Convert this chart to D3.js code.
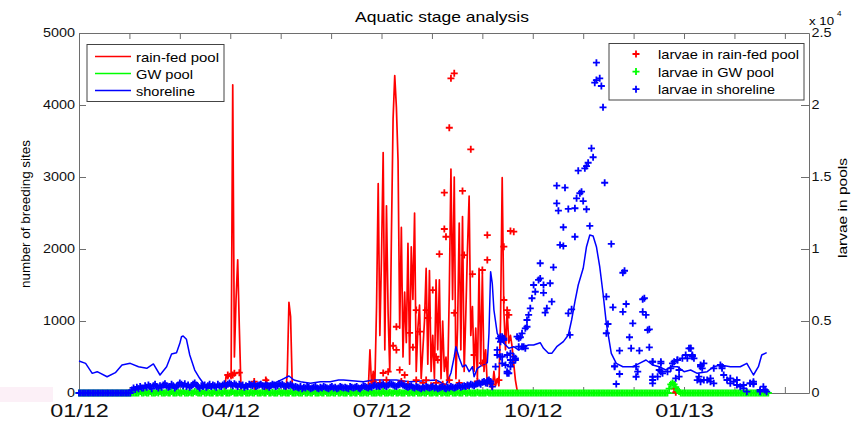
<!DOCTYPE html>
<html><head><meta charset="utf-8">
<script src="https://cdn.jsdelivr.net/npm/d3@7"></script>
<style>
body{margin:0;background:#fff;}
svg{display:block;font-family:"Liberation Sans",Arial,sans-serif;}
</style></head><body>
<svg id="c" width="854" height="423"></svg>
<script>
// ---------- DATA (day = days since 2012-01-01) ----------
const xTickDays = [0,30.5,61,91.5,122,152.5,183,213.5,244,274.5,305,335.5,366,396.5,427];
const xTickLabels = ["01/12","","","04/12","","","07/12","","","10/12","","","01/13","",""];
const yLeftTicks = [0,1000,2000,3000,4000,5000];
const yRightTicks = [0,5000,10000,15000,20000,25000];
const yRightTickLabels = ["0","0.5","1","1.5","2","2.5"];

// rain-fed pool (left axis) [day, sites]
const rainFedPool = [[0,0],[88,0],[89,250],[90,200],[91,270],[92,200],[93,4280],[94,500],[95,1300],[96,1850],[97,900],[98,50],[99,0],
[106,0],[106.5,150],[107,0],[113,0],[113.5,200],[114,0],[125,0],[126,280],[127,1260],[128,1060],[129,100],[130,0],[174,0],
[175,50],[176,600],[177,100],[178,300],[179,150],[180,1200],[181,2910],[182,800],[183,1900],[184,3340],[185,600],[186,2600],[187,1100],[188,300],[189,2200],
[190,3810],[191,4410],[192,3970],[193,3230],[194,900],[195,2300],[196,500],[197,1400],[198,700],[199,2080],[200,400],[201,2030],[202,1300],[203,2500],[204,300],
[205,900],[206,1220],[207,200],[208,600],[209,1000],[210,1730],[211,400],[212,1700],[213,300],[214,800],[215,200],[216,1570],[217,600],[218,1570],[219,200],
[220,1000],[221,300],[222,500],[223,150],[224,1400],[225,3110],[226,1300],[227,3000],[228,200],[229,900],[230,2360],[231,600],[232,2450],[233,300],[234,1100],
[235,2000],[236,2736],[237,800],[238,1200],[239,300],[240,900],[241,200],[242,1730],[243,400],[244,1666],[245,300],[246,600],[247,100],[248,200],[249,100],
[250,50],[251,300],[252,100],[253,200],[254,100],[255,1000],[256,2990],[257,1150],[258,600],[259,1150],[260,694],[261,800],[262,643],[263,400],[264,180],[265,42],[266,0]];

// GW pool (left axis)
const gwPool = [[0,0],[120,0],[240,0],[360,0],[417,0]];

// shoreline (left axis)
const shoreline = [[0,444],[4,412],[8,273],[11,296],[17,226],[22,282],[26,389],[31,412],[36,365],[41,343],[45,403],[49,250],[53,365],[56,542],[59,560],[61,690],[62,782],[63,792],[65,746],[67,528],[70,319],[73,204],[76,111],[79,65],[83,88],[89,111],[95,111],[101,111],[110,135],[118,135],[123,190],[127,236],[130,180],[134,157],[140,135],[146,157],[152,157],[157,180],[160,180],[172,157],[178,180],[192,180],[200,157],[216,180],[222,111],[225,278],[227,504],[228,643],[230,486],[232,365],[234,389],[236,296],[238,365],[239,226],[241,343],[244,389],[247,421],[248,829],[249,1685],[250,1524],[251,1153],[253,829],[255,736],[257,690],[260,621],[263,643],[266,597],[269,643],[272,667],[275,667],[279,699],[281,621],[284,551],[286,551],[289,643],[293,713],[296,806],[298,1014],[300,1268],[302,1500],[305,1732],[307,2032],[309,2195],[311,2181],[313,2032],[315,1754],[317,1385],[319,968],[322,551],[325,412],[329,365],[335,365],[339,412],[343,458],[347,389],[351,365],[355,319],[358,365],[362,365],[366,296],[370,319],[374,273],[380,296],[384,365],[388,389],[394,365],[400,365],[404,412],[408,250],[411,365],[413,528],[416,560]];

// larvae in rain-fed pool (right axis) [day, larvae]
const rainLarvae = [[90,1250],[93,1250],[94,1370],[97,1410],[106,790],[113,900],
[178,800],[182,700],[184,1390],[186,900],[187,1480],[190,3280],[192,4600],[192,2990],[194,1600],[195,800],[197,1250],[199,600],[200,4170],[202,3170],
[204,5760],[204,900],[206,4260],[208,700],[210,5760],[210,900],[211,5210],[213,500],[214,7150],[216,2520],[216,700],[217,2290],[218,9650],[220,600],
[221,13910],[221,11390],[222,10850],[224,18420],[224,900],[225,21850],[227,22200],[227,5560],[230,700],[232,14030],[233,9580],[235,500],[237,16920],
[238,8260],[239,2640],[241,800],[244,8540],[244,2080],[247,10970],[247,9240],[250,600],[254,900],[257,10160],[257,6460],[259,5760],[260,5420],
[261,11250],[263,11200],[360,300],[361,50]];

// larvae in GW pool (right axis), daily from day 0
const gwLarvaeDaily = [
0,0,0,0,0,0,0,0,0,0, 0,0,0,0,0,0,0,0,0,0, 0,0,0,0,0,0,0,0,0,0, 0,0,0,0,0,
0,0,100,0,0,50,0,0,100,0,0,0,50,0,100,0,0,0,50,0,0,100,0,0,
0,50,0,0,100,0,0,0,50,0,0,100,50,0,0,0,100,0,0,50,0,0,0,100,
0,0,50,0,0,100,0,0,0,50,100,0,0,0,50,0,0,100,0,0,0,50,0,0,
100,0,0,0,50,0,0,100,0,0,50,0,0,0,100,0,0,50,0,0,0,100,0,0,
0,50,0,0,0,100,0,0,50,0,0,100,0,0,0,50,0,0,100,0,0,0,50,0,
0,100,0,0,50,0,0,0,100,0,0,50,0,0,100,0,0,0,50,0,0,100,0,0,
0,0,50,0,0,100,0,0,0,50,0,0,100,0,0,50,0,0,0,100,0,0,50,0,
0,100,0,0,0,50,0,0,100,0,0,0,50,0,0,100,0,0,50,0,0,0,100,0,
0,0,50,0,0,0,100,0,0,50,0,0,0,0,50,0,0,0,0,0,50,0,0,0,
0,0,0,0,0,0,0,0,0,0, 0,0,0,0,0,0,0,0,0,0, 0,0,0,0,0,0,0,0,0,0, 0,0,0,0,0,0,0,0,0,0, 0,0,0,0,0,0,0,0,0,0,
0,0,0,0,0,0,0,0,0,0, 0,0,0,0,0,0,0,0,0,0, 0,0,0,0,0,0,0,0,0,0, 0,0,0,0,0,0,0,0,0,0, 0,0,0,0,0,0,0,0,0,0, 0,0,0,0,0,0,
300,600,700,600,400,200,100,
0,0,0,0,0,0,0,0,0,0, 0,0,0,0,0,0,0,0,0,0, 0,0,0,0,0,0,0,0,0,0, 0,0,0,0,0,0,0,0,0,0, 0,0,0,0,0,0,0,0,0,0, 0,0,0,0];

// larvae in shoreline (right axis), daily from day 0 to 249
const shoreLarvaeDaily = [
0,0,0,0,0,0,0,0,0,0, 0,0,0,0,0,0,0,0,0,0, 0,0,0,0,0,0,0,0,0,0, 0,0,
200,350,250,400,300,450,350,
350,500,400,550,450,300,500,600,450,350,500,400,550,650,500,400,450,600,500,350,450,
550,700,600,500,650,450,550,400,500,600,700,550,450,350,500,450,550,400,500,600,450,550,500,400,600,500,450,550,650,500,600,
700,600,500,650,550,450,600,500,550,400,500,450,600,550,500,650,450,500,550,600,500,450,550,500,400,500,600,550,450,500,650,550,600,500,450,550,500,600,500,400,
450,400,350,450,300,400,350,450,400,300,350,400,450,350,300,400,350,450,400,350,300,400,450,350,400,300,350,450,400,350,400,350,300,450,400,350,400,450,350,300,400,500,450,400,350,450,400,500,550,450,
500,450,550,600,500,450,550,650,600,550,500,450,550,600,650,550,500,450,400,450,500,400,350,450,400,350,300,400,350,450,400,350,400,450,350,400,300,350,400,450,
350,300,400,350,450,400,350,400,450,500,400,450,500,450,550,500,600,550,500,600,650,700,600,750,800,700,850,900,800];

// larvae in shoreline, scattered points after September [day, larvae]
const shoreLarvaeLate = [[313,22940],[315,21850],[313,21730],[312,21550],[316,21320],[317,19840],[310,16990],[311,16370],[308,15990],[307,15760],[306,15600],[302,15440],[318,14600],[289,14400],[294,14260],[304,13980],[303,13870],[301,13520],[305,13330],[289,13170],[290,12660],[296,12780],[300,12830],[307,12760],[293,11510],[309,11600],[300,10850],[293,10210],[291,10280],[322,10350],[279,9010],[287,8730],[330,8490],[329,8350],[275,7500],[279,7960],[278,7850],[281,7500],[285,7620],[274,6580],[276,7030],[281,6960],[286,6340],[283,5880],[282,5580],[273,5880],[272,5420],[271,5070],[270,4490],[296,5530],[298,5810],[319,6690],[323,5950],[331,6180],[329,5640],[341,6510],[342,6580],[341,5640],[343,5420],[335,4840],[320,4790],[345,4420],[333,3870],[297,4030],[266,3800],[255,3910],[257,3800],[319,4150],[327,2940],[334,3100],[339,2940],[345,3170],[370,3100],[324,1830],[327,1320],[337,1130],[337,1830],[325,625],[347,2170],[352,2060],[352,1480],[347,1130],[347,670],[359,2060],[362,2290],[368,2410],[371,2520],[374,900],[376,785],[376,1830],[378,2060],[382,1020],[389,1830],[406,670],[408,625],[252,1830],[253,2990],[256,2520],[259,1370],[261,1830],[247,670],[249,670],[250,440],[254,3800],[255,3560],[268,3215],[270,3100],[253,2640],[259,2640],[261,2290],[262,2100],[264,2410],[260,1370],[344,4375],[324,1870],[338,1480],[267,3870],[269,3215],[256,3910],[257,3680],[255,2520],[256,2060],[258,1944],[259,1480],[261,2757],[263,2520],[264,2290],[266,3215],[265,3910],[268,4145],[271,4600],
[347,2173],[352,2173],[351,1597],[350,1132],[347,903],[353,1368],[356,1479],[358,1715],[360,2173],[362,2292],[365,2410],[367,2639],[370,3104],[372,2410],[371,2639],[363,1597],[363,1132],[361,1021],[376,1944],[377,1715],[375,1132],[378,903],[380,903],[382,785],[384,674],[388,1944],[389,1715],[390,1250],[392,903],[394,674],[396,785],[398,556],[400,437],[402,326],[404,90],[406,674],[408,674],[412,208],[414,437],[416,90],[384,1715],[394,1021],[398,903],[402,556],[408,785],[412,90],[415,208],[369,3104],[371,2570]];

const leftLegend = ["rain-fed pool","GW pool","shoreline"];
const rightLegend = ["larvae in rain-fed pool","larvae in GW pool","larvae in shoreline"];
const colors = ["#ff0000","#00ff00","#0000ff"];

// ---------- CHART ----------
const svg = d3.select("#c");
const x = d3.scaleLinear().domain([0,441.6]).range([79,809]);
const yL = d3.scaleLinear().domain([0,5000]).range([393,33]);
const yR = d3.scaleLinear().domain([0,25000]).range([393,33]);
const axisColor = "#6e6e6e";

svg.append("rect").attr("x",0).attr("y",387).attr("width",53).attr("height",15).attr("fill","#fcf0f7");

function styleAxis(g, sx){
  g.select(".domain").attr("stroke",axisColor);
  g.selectAll(".tick line").attr("stroke",axisColor);
  g.selectAll(".tick text").attr("fill","#111").attr("transform",`scale(${sx},1)`);
}
// axes (drawn beneath data)
const gx = svg.append("g").attr("transform","translate(0,393)")
  .call(d3.axisBottom(x).tickValues(xTickDays).tickFormat((d,i)=>xTickLabels[i]).tickSizeInner(-6).tickSizeOuter(0).tickPadding(11.2));
gx.attr("font-size",18).attr("font-family",null);
styleAxis(gx,1.3);
const gt = svg.append("g").attr("transform","translate(0,33)")
  .call(d3.axisTop(x).tickValues(xTickDays).tickFormat("").tickSizeInner(-6).tickSizeOuter(0));
styleAxis(gt,1);
const gl = svg.append("g").attr("transform","translate(79,0)")
  .call(d3.axisLeft(yL).tickValues(yLeftTicks).tickFormat(d3.format("d")).tickSizeInner(-7).tickSizeOuter(0).tickPadding(3.3));
gl.attr("font-size",12).attr("font-family",null);
styleAxis(gl,1.2);
const gr = svg.append("g").attr("transform","translate(809,0)")
  .call(d3.axisRight(yR).tickValues(yRightTicks).tickFormat((d,i)=>yRightTickLabels[i]).tickSizeInner(-8).tickSizeOuter(0).tickPadding(2));
gr.attr("font-size",12).attr("font-family",null);
styleAxis(gr,1.2);

// left-axis lines
const line = d3.line().x(d=>x(d[0])).y(d=>yL(d[1]));
const plot = svg.append("g");
plot.append("path").datum(rainFedPool).attr("d",line).attr("fill","none").attr("stroke",colors[0]).attr("stroke-width",1.7).attr("stroke-linejoin","round");
plot.append("path").datum(gwPool).attr("d",line).attr("fill","none").attr("stroke",colors[1]).attr("stroke-width",1.5);
plot.append("path").datum(shoreline).attr("d",line).attr("fill","none").attr("stroke",colors[2]).attr("stroke-width",1.5).attr("stroke-linejoin","round");

// right-axis markers
const plus = "M-3.5,0H3.5M0,-3.5V3.5";
function markers(data,color){
  plot.append("g").selectAll("path").data(data).join("path")
    .attr("transform",d=>`translate(${x(d[0])},${yR(d[1])})`)
    .attr("d",plus).attr("stroke",color).attr("stroke-width",1.8).attr("fill","none");
}
markers(rainLarvae,colors[0]);
markers(gwLarvaeDaily.map((v,i)=>[i,v]),colors[1]);
markers(shoreLarvaeDaily.map((v,i)=>[i,v]).concat(shoreLarvaeLate),colors[2]);

// title and labels
svg.append("text").attr("x",442).attr("y",22).attr("text-anchor","middle").attr("font-size",15)
  .attr("textLength",174).attr("lengthAdjust","spacingAndGlyphs").text("Aquatic stage analysis");
svg.append("text").attr("transform","translate(30,214) rotate(-90)").attr("text-anchor","middle").attr("font-size",12)
  .attr("textLength",148).attr("lengthAdjust","spacingAndGlyphs").text("number of breeding sites");
svg.append("text").attr("transform","translate(847,208) rotate(-90)").attr("text-anchor","middle").attr("font-size",12)
  .attr("textLength",100).attr("lengthAdjust","spacingAndGlyphs").text("larvae in pools");
svg.append("text").attr("x",809).attr("y",24.5).attr("font-size",11)
  .attr("textLength",25).attr("lengthAdjust","spacingAndGlyphs").text("x 10");
svg.append("text").attr("x",837).attr("y",15.5).attr("font-size",8).text("4");

// left legend
const ll = svg.append("g");
ll.append("rect").attr("x",87).attr("y",44.5).attr("width",137).attr("height",57).attr("fill","#fff").attr("stroke","#444").attr("stroke-width",1);
const llW = [83,57,59];
leftLegend.forEach((t,i)=>{
  const yy = 56.5 + i*17;
  ll.append("line").attr("x1",95).attr("x2",131).attr("y1",yy).attr("y2",yy).attr("stroke",colors[i]).attr("stroke-width",1.5);
  ll.append("text").attr("x",136).attr("y",yy+5).attr("font-size",13).attr("textLength",llW[i]).attr("lengthAdjust","spacingAndGlyphs").text(t);
});
// right legend
const rl = svg.append("g");
rl.append("rect").attr("x",609).attr("y",43.5).attr("width",195).attr("height",56.5).attr("fill","#fff").attr("stroke","#444").attr("stroke-width",1);
const rlW = [141,116,117];
rightLegend.forEach((t,i)=>{
  const yy = 54 + i*17.6;
  rl.append("path").attr("transform",`translate(636,${yy})`).attr("d",plus).attr("stroke",colors[i]).attr("stroke-width",1.8);
  rl.append("text").attr("x",658).attr("y",yy+5).attr("font-size",13).attr("textLength",rlW[i]).attr("lengthAdjust","spacingAndGlyphs").text(t);
});
</script></body></html>
